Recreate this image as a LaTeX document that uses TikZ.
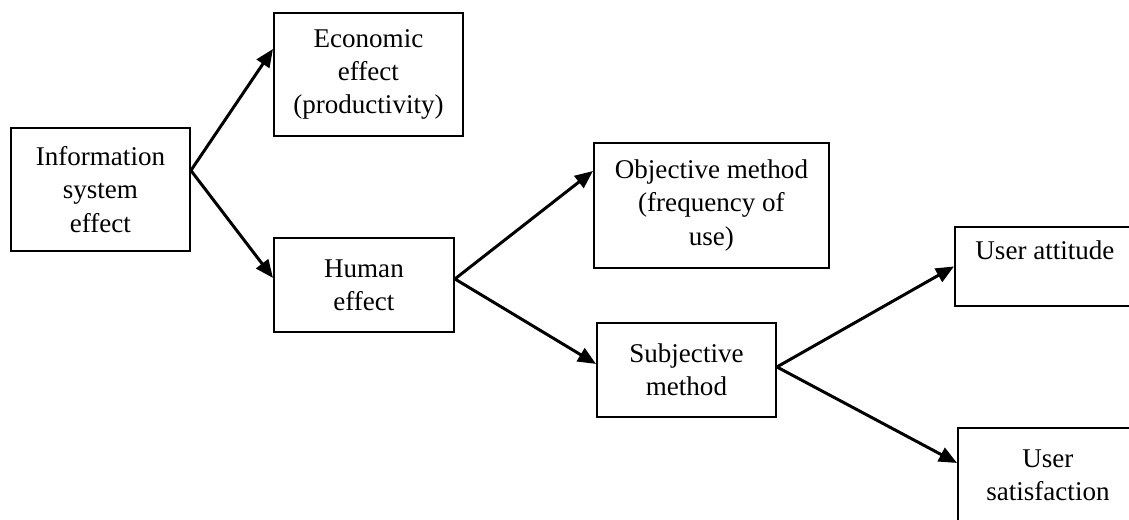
\documentclass[tikz,border=0pt]{standalone}
\usepackage{fontspec}
\setmainfont{Liberation Serif}
\usetikzlibrary{arrows.meta}
\tikzset{every node/.style={draw=none,inner sep=0pt},
  effbox/.style={draw,line width=1.1pt,anchor=north west,align=center,
    font=\fontsize{15.4}{18.9}\selectfont},
  link/.style={line width=1.7pt,-{Triangle[length=0.36cm,width=0.3cm]}}}

\begin{document}
\begin{tikzpicture}[x=0.02cm,y=-0.02cm]
      \clip (0,0) rectangle (1129,520);
      \node[effbox,minimum width=3.58cm,minimum height=2.46cm] (info) at (10,127) {Information\\system\\effect};
      \node[effbox,minimum width=3.78cm,minimum height=2.46cm] (econ) at (273,12) {Economic\\effect\\(productivity)};
      \node[effbox,minimum width=3.6cm,minimum height=1.88cm] (human) at (273,237) {Human\\effect};
      \node[effbox,minimum width=4.7cm,minimum height=2.5cm] (obj) at (593,142) {Objective method\\(frequency of\\use)};
      \node[effbox,minimum width=3.58cm,minimum height=1.88cm] (subj) at (596,322) {Subjective\\method};
      \node[effbox,minimum width=3.6cm,minimum height=1.58cm] (att) at (954,226) {User attitude\\\mbox{}};
      \node[effbox,minimum width=3.6cm,minimum height=1.9cm] (sat) at (957,427) {User\\satisfaction};

\draw[link] ([yshift=0.38cm]info.east) -- ([yshift=0.51cm]econ.west);
\draw[link] ([yshift=0.38cm]info.east) -- ([yshift=0.14cm]human.west);
\draw[link] ([yshift=0.12cm]human.east) -- ([yshift=-0.58cm]obj.north west);
\draw[link] ([yshift=0.12cm]human.east) -- ([yshift=0.12cm]subj.west);
\draw[link] ([yshift=0.06cm]subj.east) -- (att.west);
\draw[link] ([yshift=0.06cm]subj.east) -- ([yshift=0.25cm]sat.west);
    \end{tikzpicture}
\end{document}
